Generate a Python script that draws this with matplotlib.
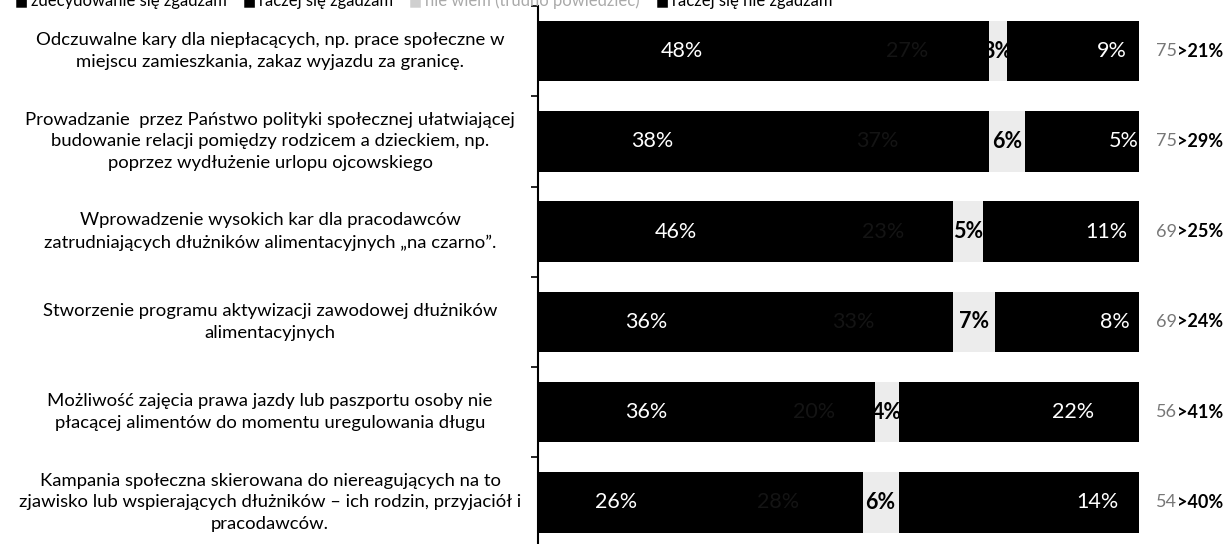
import numpy as np
import matplotlib.pyplot as plt

# ---------------- data ----------------
categories = [
    "Odczuwalne kary dla niepłacących, np. prace społeczne w\nmiejscu zamieszkania, zakaz wyjazdu za granicę.",
    "Prowadzanie  przez Państwo polityki społecznej ułatwiającej\nbudowanie relacji pomiędzy rodzicem a dzieckiem, np.\npoprzez wydłużenie urlopu ojcowskiego",
    "Wprowadzenie wysokich kar dla pracodawców\nzatrudniających dłużników alimentacyjnych „na czarno”.",
    "Stworzenie programu aktywizacji zawodowej dłużników\nalimentacyjnych",
    "Możliwość zajęcia prawa jazdy lub paszportu osoby nie\npłacącej alimentów do momentu uregulowania długu",
    "Kampania społeczna skierowana do niereagujących na to\nzjawisko lub wspierających dłużników – ich rodzin, przyjaciół i\npracodawców.",
]
strongly_agree = [48, 38, 46, 36, 36, 26]
rather_agree = [27, 37, 23, 33, 20, 28]
neutral = [3, 6, 5, 7, 4, 6]
rather_disagree = [13, 14, 15, 16, 18, 26]
strongly_disagree = [9, 5, 11, 8, 22, 14]

agree_totals = [75, 75, 69, 69, 56, 54]
disagree_totals = [21, 29, 25, 24, 41, 40]

legend_items = ["zdecydowanie się zgadzam", "raczej się zgadzam",
                "nie wiem (trudno powiedzieć)", "raczej się nie zgadzam"]
legend_colors = ["black", "black", "#cfcfcf", "black"]
legend_text_colors = ["black", "black", "#aaaaaa", "black"]

plt.rcParams['font.family'] = ['Lato', 'DejaVu Sans']

fig = plt.figure(figsize=(12.3, 5.44), dpi=100)
ax = fig.add_axes([538 / 1230, 0, 601 / 1230, 1 - 6 / 544])

y = np.arange(len(categories))
h = 0.67
segs = [strongly_agree, rather_agree, neutral, rather_disagree, strongly_disagree]
cols = ['black', 'black', '#ececec', 'black', 'black']
left = np.zeros(len(y))
for k, (vals, c) in enumerate(zip(segs, cols)):
    vals = np.array(vals, dtype=float)
    ax.barh(y, vals, left=left, height=h, color=c, edgecolor='none')
    for i, v in enumerate(vals):
        xc = left[i] + v / 2
        if k == 0:
            ax.text(xc, i, f"{v:.0f}%", ha='center', va='center', color='white', fontsize=15.5)
        elif k == 1:
            ax.text(xc, i, f"{v:.0f}%", ha='center', va='center', color='#141414', fontsize=15.5)
        elif k == 2:
            ax.text(xc, i, f"{v:.0f}%", ha='center', va='center', color='black', fontsize=15.5,
                    fontweight='bold')
        elif k == 4:
            ax.text(xc, i, f"{v:.0f}%", ha='center', va='center', color='white', fontsize=15.5)
    left += vals

# right-hand summary labels
for i in range(len(y)):
    ax.text(106.3, i, f"{agree_totals[i]}", ha='right', va='center', color='#777777',
            fontsize=13, clip_on=False)
    ax.text(106.3, i, f">{disagree_totals[i]}%", ha='left', va='center', color='black',
            fontsize=13, fontweight='bold', clip_on=False)

# category labels
for i, lab in enumerate(categories):
    ax.text(-268 / 601, i, lab, transform=ax.get_yaxis_transform(), ha='center', va='center',
            multialignment='center', fontsize=13.3, linespacing=1.45, color='black')

ax.set_xlim(0, 100)
ax.set_ylim(5.46, -0.5)
ax.set_xticks([])
ax.set_yticks(np.arange(-0.5, 5.0, 1.0))
ax.set_yticklabels([])
ax.tick_params(axis='y', length=5, width=1.2, direction='out')
for s in ['top', 'right', 'bottom']:
    ax.spines[s].set_visible(False)
ax.spines['left'].set_linewidth(1.5)

# legend strip, cut off at the top edge
fig.canvas.draw()
r = fig.canvas.get_renderer()
xp = 15
for txt, c, tc in zip(legend_items, legend_colors, legend_text_colors):
    fig.text(xp / 1230, 1 - 1 / 544, "■", color=c, fontsize=10, va='center',
             family=['DejaVu Sans'])
    t = fig.text((xp + 16) / 1230, 1 - 1 / 544, txt, color=tc, fontsize=12, va='center')
    xp = t.get_window_extent(r).x1 + 16

fig.savefig('out.png', dpi=100)
